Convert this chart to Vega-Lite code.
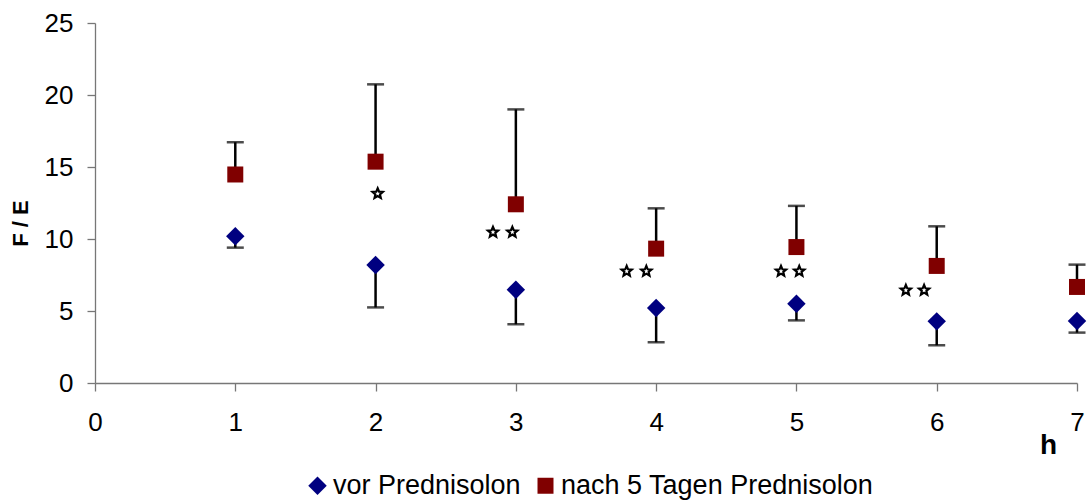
{
  "$schema": "https://vega.github.io/schema/vega-lite/v6.json",
  "width": 982,
  "height": 360,
  "autosize": {"type": "none"},
  "padding": {"left": 95, "top": 23, "right": 11, "bottom": 117},
  "background": "white",
  "config": {
    "view": {"stroke": null},
    "font": "Liberation Sans",
    "axis": {
      "grid": false,
      "domainColor": "#777777",
      "tickColor": "#777777",
      "domainWidth": 1.3,
      "tickWidth": 1.3,
      "tickSize": 8,
      "labelColor": "black",
      "labelFontSize": 26,
      "labelFont": "Liberation Sans",
      "titleFont": "Liberation Sans",
      "titleColor": "black"
    }
  },
  "datasets": {
    "series": [
      {"h": 1, "value": 10.19, "err": 9.4, "serie": "vor Prednisolon"},
      {"h": 2, "value": 8.2, "err": 5.25, "serie": "vor Prednisolon"},
      {"h": 3, "value": 6.48, "err": 4.08, "serie": "vor Prednisolon"},
      {"h": 4, "value": 5.21, "err": 2.83, "serie": "vor Prednisolon"},
      {"h": 5, "value": 5.51, "err": 4.35, "serie": "vor Prednisolon"},
      {"h": 6, "value": 4.28, "err": 2.62, "serie": "vor Prednisolon"},
      {"h": 7, "value": 4.31, "err": 3.5, "serie": "vor Prednisolon"},
      {"h": 1, "value": 14.48, "err": 16.72, "serie": "nach 5 Tagen Prednisolon"},
      {"h": 2, "value": 15.37, "err": 20.74, "serie": "nach 5 Tagen Prednisolon"},
      {"h": 3, "value": 12.41, "err": 19.0, "serie": "nach 5 Tagen Prednisolon"},
      {"h": 4, "value": 9.33, "err": 12.13, "serie": "nach 5 Tagen Prednisolon"},
      {"h": 5, "value": 9.44, "err": 12.3, "serie": "nach 5 Tagen Prednisolon"},
      {"h": 6, "value": 8.13, "err": 10.88, "serie": "nach 5 Tagen Prednisolon"},
      {"h": 7, "value": 6.67, "err": 8.22, "serie": "nach 5 Tagen Prednisolon"}
    ],
    "stars": [
      {"h": 2.015, "value": 13.15},
      {"h": 2.837, "value": 10.47},
      {"h": 2.975, "value": 10.47},
      {"h": 3.79, "value": 7.76},
      {"h": 3.93, "value": 7.76},
      {"h": 4.89, "value": 7.76},
      {"h": 5.02, "value": 7.76},
      {"h": 5.78, "value": 6.44},
      {"h": 5.91, "value": 6.44}
    ]
  },
  "encoding": {
    "x": {
      "field": "h",
      "type": "quantitative",
      "scale": {"domain": [0, 7], "nice": false, "zero": false},
      "axis": {
        "values": [0, 1, 2, 3, 4, 5, 6, 7],
        "labelPadding": 18,
        "labelFlush": false,
        "title": "h",
        "titleFontSize": 28,
        "titleFontWeight": "bold",
        "titleX": 953,
        "titleY": 62,
        "titleAlign": "center",
        "titleBaseline": "middle"
      }
    },
    "y": {
      "field": "value",
      "type": "quantitative",
      "scale": {"domain": [0, 25], "nice": false},
      "axis": {
        "values": [0, 5, 10, 15, 20, 25],
        "labelPadding": 14,
        "title": "F / E",
        "titleFontSize": 22,
        "titleFontWeight": "bold",
        "titleAngle": -90,
        "titleX": -75,
        "titleY": 200,
        "titleAlign": "center",
        "titleBaseline": "middle"
      }
    }
  },
  "layer": [
    {
      "data": {"name": "series"},
      "mark": {"type": "rule", "color": "black", "strokeWidth": 2.5},
      "encoding": {"y2": {"field": "err"}}
    },
    {
      "data": {"name": "series"},
      "mark": {"type": "tick", "orient": "horizontal", "color": "black", "thickness": 2.5, "size": 17},
      "encoding": {"y": {"field": "err", "type": "quantitative"}}
    },
    {
      "data": {"name": "series"},
      "mark": {"type": "point", "filled": true, "opacity": 1},
      "encoding": {
        "size": {
          "field": "serie",
          "type": "nominal",
          "scale": {"domain": ["vor Prednisolon", "nach 5 Tagen Prednisolon"], "range": [340, 256]},
          "legend": null
        },
        "color": {
          "field": "serie",
          "type": "nominal",
          "scale": {"domain": ["vor Prednisolon", "nach 5 Tagen Prednisolon"], "range": ["#000080", "#800000"]},
          "legend": {
            "title": null,
            "orient": "none",
            "direction": "horizontal",
            "legendX": 209,
            "legendY": 449,
            "labelFontSize": 27,
            "labelFont": "Liberation Sans",
            "labelColor": "black",
            "labelLimit": 0,
            "symbolSize": 300,
            "labelOffset": 2,
            "columnPadding": 11,
            "padding": 0
          }
        },
        "shape": {
          "field": "serie",
          "type": "nominal",
          "scale": {"domain": ["vor Prednisolon", "nach 5 Tagen Prednisolon"], "range": ["diamond", "square"]},
          "legend": {
            "title": null,
            "orient": "none",
            "direction": "horizontal",
            "legendX": 209,
            "legendY": 449,
            "labelFontSize": 27,
            "labelFont": "Liberation Sans",
            "labelColor": "black",
            "labelLimit": 0,
            "symbolSize": 300,
            "labelOffset": 2,
            "columnPadding": 11,
            "padding": 0
          }
        }
      }
    },
    {
      "data": {"name": "stars"},
      "mark": {"type": "point", "shape": "M0,-1L0.264,-0.364L0.951,-0.309L0.428,0.139L0.588,0.809L0,0.45L-0.588,0.809L-0.428,0.139L-0.951,-0.309L-0.264,-0.364Z", "filled": false, "fill": "white", "stroke": "black", "strokeWidth": 2.2, "size": 115, "opacity": 1, "strokeJoin": "miter"}
    }
  ]
}
